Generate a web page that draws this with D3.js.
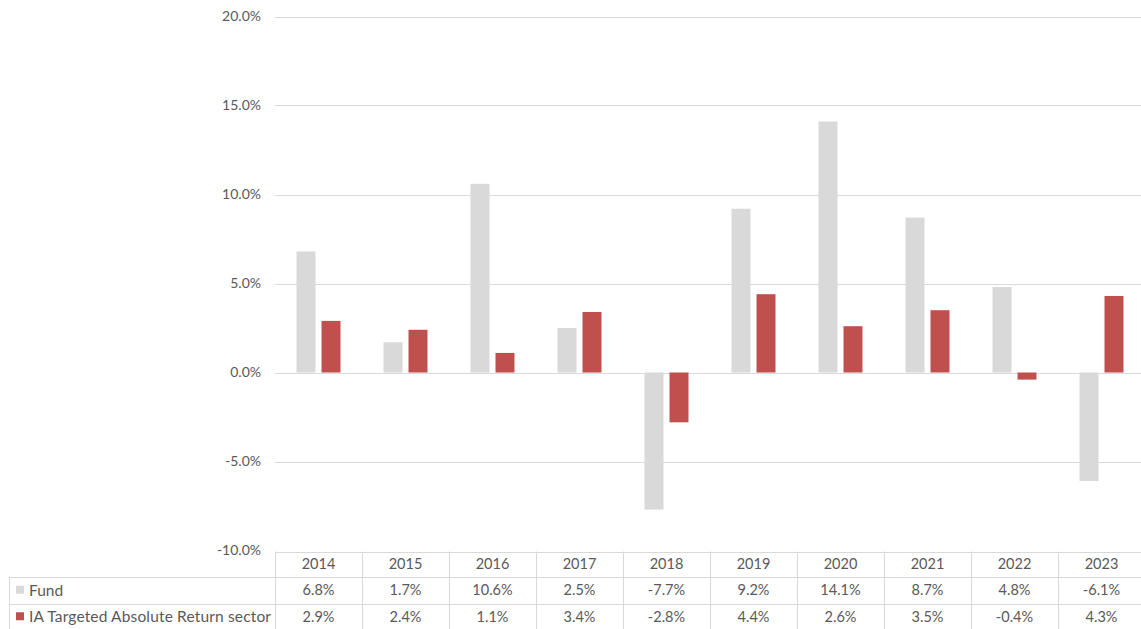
<!DOCTYPE html>
<html>
<head>
<meta charset="utf-8">
<script src="https://cdn.jsdelivr.net/npm/d3@7"></script>
<style>
  html, body { margin: 0; padding: 0; background: #fff; overflow: hidden; }
  svg { display: block; font-family: Lato, "Open Sans", sans-serif; }
</style>
</head>
<body>
<svg width="1141" height="629"></svg>
<script>
// Chart data
const years = ['2014', '2015', '2016', '2017', '2018', '2019', '2020', '2021', '2022', '2023'];
const seriesNames = ['Fund', 'IA Targeted Absolute Return sector'];
const fundValues = [6.8, 1.7, 10.6, 2.5, -7.7, 9.2, 14.1, 8.7, 4.8, -6.1];
const sectorValues = [2.9, 2.4, 1.1, 3.4, -2.8, 4.4, 2.6, 3.5, -0.4, 4.3];
const yTicks = [-10, -5, 0, 5, 10, 15, 20];
const colors = ['#d9d9d9', '#c0504d'];

const svg = d3.select('svg');
const plot = { left: 275, right: 1145, top: 16.5, bottom: 550.5 };
const gridColor = '#d9d9d9';
const textColor = '#595959';

const series = [fundValues, sectorValues];
// plain hyphen for negatives, like the source
const pct = d => d.toFixed(1) + '%';

// Scales
const x = d3.scaleBand().domain(years).range([plot.left, plot.right]).padding(0);
const step = x.bandwidth();
const groupWidth = 44;
const x1 = d3.scaleBand().domain(seriesNames)
    .range([(step - groupWidth) / 2, (step + groupWidth) / 2])
    .paddingInner(0.24);
const y = d3.scaleLinear().domain([-10, 20]).range([plot.bottom, plot.top]);

// Gridlines
svg.append('g').selectAll('line')
    .data(yTicks.filter(d => d !== -10))
    .join('line')
    .attr('x1', plot.left).attr('x2', 1141)
    .attr('y1', d => Math.round(y(d)) + 0.5).attr('y2', d => Math.round(y(d)) + 0.5)
    .attr('stroke', gridColor).attr('stroke-width', 1);

// Y axis labels
const yAxis = d3.axisLeft(y).tickValues(yTicks).tickSize(0).tickPadding(14)
    .tickFormat(pct);
svg.append('g')
    .attr('transform', `translate(${plot.left},0)`)
    .call(yAxis)
    .call(g => g.select('.domain').remove())
    .call(g => g.selectAll('text').attr('fill', textColor).attr('font-size', 14)
        .attr('font-family', 'Lato, "Open Sans", sans-serif'));

// Bars
const groups = svg.append('g').selectAll('g')
    .data(years)
    .join('g')
    .attr('transform', d => `translate(${x(d)},0)`);

groups.selectAll('rect')
    .data((d, i) => seriesNames.map((s, k) => ({ s, k, v: series[k][i] })))
    .join('rect')
    .attr('x', d => x1(d.s))
    .attr('width', x1.bandwidth())
    .attr('y', d => y(Math.max(0, d.v)))
    .attr('height', d => Math.abs(y(d.v) - y(0)))
    .attr('fill', d => colors[d.k]);

// Data table
const rowEdges = [551.5, 577, 603.5, 630];
const tableLeft = 9.5;
const table = svg.append('g');

// horizontal lines
rowEdges.forEach((ry, i) => {
    table.append('line')
        .attr('x1', i === 0 ? plot.left : tableLeft).attr('x2', 1141)
        .attr('y1', Math.round(ry) + 0.5).attr('y2', Math.round(ry) + 0.5)
        .attr('stroke', gridColor);
});
// vertical lines
years.forEach(yr => {
    table.append('line')
        .attr('x1', Math.round(x(yr)) + 0.5).attr('x2', Math.round(x(yr)) + 0.5)
        .attr('y1', rowEdges[0]).attr('y2', 629)
        .attr('stroke', gridColor);
});
table.append('line')
    .attr('x1', tableLeft).attr('x2', tableLeft)
    .attr('y1', rowEdges[1]).attr('y2', 629)
    .attr('stroke', gridColor);

// header years
table.selectAll('text.year')
    .data(years)
    .join('text')
    .attr('class', 'year')
    .attr('x', d => x(d) + step / 2)
    .attr('y', (rowEdges[0] + rowEdges[1]) / 2)
    .attr('dy', '0.35em')
    .attr('text-anchor', 'middle')
    .attr('font-size', 14.5)
    .attr('fill', textColor)
    .text(d => d);

// rows
series.forEach((vals, k) => {
    const cy = (rowEdges[k + 1] + rowEdges[k + 2]) / 2;
    table.append('rect')
        .attr('x', 16).attr('y', cy - 4.5)
        .attr('width', 8).attr('height', 8)
        .attr('fill', colors[k]);
    table.append('text')
        .attr('x', 29).attr('y', cy).attr('dy', '0.35em')
        .attr('font-size', 15.5).attr('fill', textColor)
        .attr('textLength', k === 1 ? 242 : null)
        .text(seriesNames[k]);
    table.selectAll(null)
        .data(vals)
        .join('text')
        .attr('x', (d, i) => x(years[i]) + step / 2)
        .attr('y', cy).attr('dy', '0.35em')
        .attr('text-anchor', 'middle')
        .attr('font-size', 14.5).attr('fill', textColor)
        .text(pct);
});
</script>
</body>
</html>
